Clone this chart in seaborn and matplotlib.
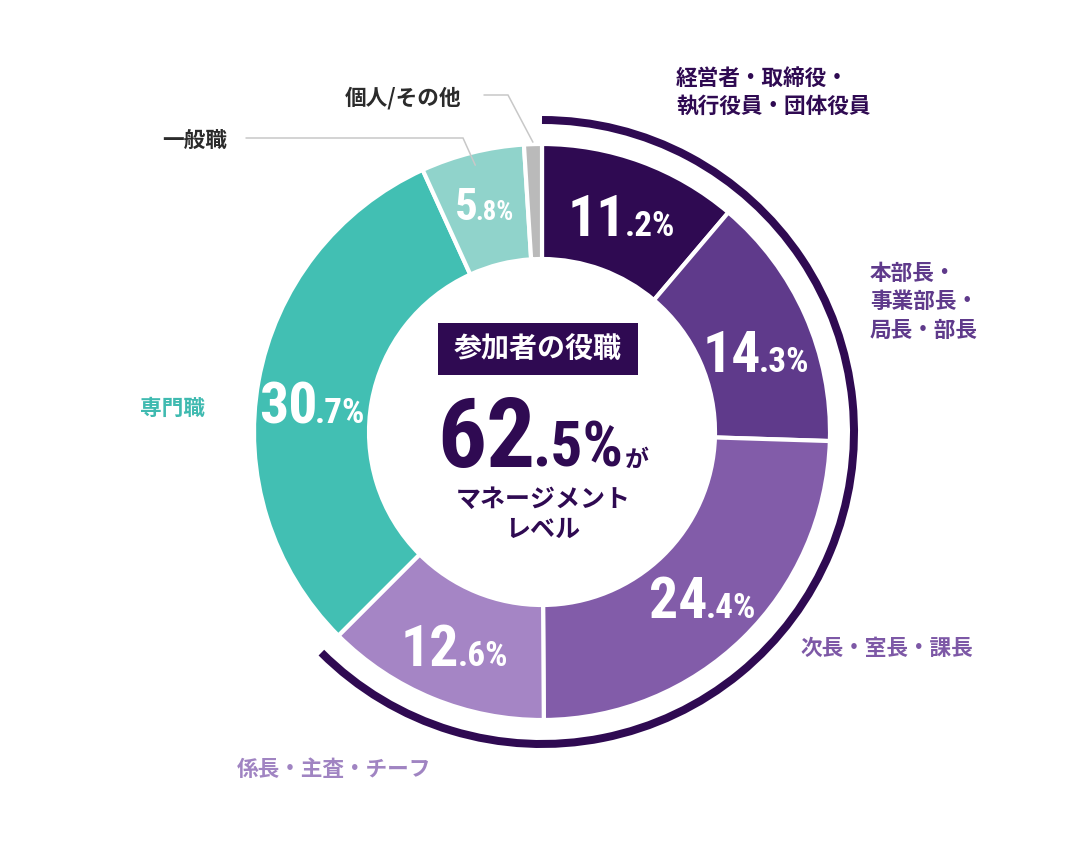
import numpy as np
import matplotlib
matplotlib.use("Agg")
import matplotlib.pyplot as plt
from matplotlib import font_manager
import seaborn as sns
from matplotlib.patches import Arc, Rectangle

# data
categories = ["経営者・取締役・\n執行役員・団体役員", "本部長・\n事業部長・\n局長・部長",
              "次長・室長・課長", "係長・主査・チーフ", "専門職", "一般職", "個人/その他"]
shares = [11.2, 14.3, 24.4, 12.6, 30.7, 5.8, 1.0]
is_management = [True, True, True, True, False, False, False]
wedge_colors = ["#2f0a52", "#5f3a8b", "#825ca9", "#a585c5", "#42bfb3", "#90d3cb", "#bababa"]
label_colors = ["#2f0a52", "#5f3a8b", "#7d58a6", "#a084c2", "#3fbab0", "#2b2b2b", "#2b2b2b"]
center_title = "参加者の役職"
center_caption = ["マネージメント", "レベル"]

sns.set_theme(style="white")
JP = ["Noto Sans CJK JP", "DejaVu Sans"]
installed = {f.name for f in font_manager.fontManager.ttflist}
narrow = [f for f in ["Roboto Condensed", "Liberation Sans Narrow"] if f in installed]
NUM = narrow + ["Roboto", "DejaVu Sans"]
# squeeze factor if no condensed face is around
SQ = 1.0 if narrow else 0.9
plt.rcParams["font.family"] = JP

W, H = 1084, 864
CX, CY = 542, 432
R_OUT, R_IN, R_ARC = 288, 173, 312
DARK = wedge_colors[0]

fig = plt.figure(figsize=(W / 100, H / 100), dpi=100)
ax = fig.add_axes([0, 0, 1, 1])

def py(y):
    # pixel row (from top) to data y
    return H - y

palette = sns.color_palette(wedge_colors)
wedges, _ = ax.pie(shares, colors=palette, startangle=90, counterclock=False,
                   radius=R_OUT, center=(CX, py(CY)),
                   wedgeprops=dict(width=R_OUT - R_IN, edgecolor="white", linewidth=3))
ax.set_xlim(0, W)
ax.set_ylim(0, H)
ax.set_aspect("equal")
ax.axis("off")

# outer arc around management segments
mg = [w for w, m in zip(wedges, is_management) if m]
lo = min(w.theta1 for w in mg)
hi = max(w.theta2 for w in mg)
ax.add_patch(Arc((CX, py(CY)), 2 * R_ARC, 2 * R_ARC, theta1=lo, theta2=hi,
                 color=DARK, lw=8 * 0.72, capstyle="butt"))

renderer = fig.canvas.get_renderer()

def rich(x, yc, parts, color):
    # parts: (text, cap height px, family, kern after); centred on x, cap centred on yc
    texts, widths = [], []
    for s, cap, fam, kern in parts:
        size = cap / 0.71 * (SQ if fam is NUM else 1)
        t = ax.text(0, 0, s, fontsize=size * 0.72, family=fam, weight="bold",
                    color=color, ha="left", va="baseline")
        widths.append(t.get_window_extent(renderer).width + kern)
        texts.append(t)
    cap = max(p[1] for p in parts)
    x0 = x - sum(widths) / 2
    for t, w in zip(texts, widths):
        t.set_position((x0, yc - cap / 2))
        x0 += w

# percentage labels inside wedges
r_lab = (R_OUT + R_IN) / 2
nudge = {1: (3, -13), 4: (-3, -12), 5: (-2, 4)}
for i, (w, v) in enumerate(zip(wedges, shares)):
    if v < 2:
        continue
    a = np.deg2rad((w.theta1 + w.theta2) / 2)
    big, small = f"{v:.1f}".split(".")
    bc, sc = (41, 25) if v >= 10 else (32, 19)
    dx, dy = nudge.get(i, (0, 0))
    rich(CX + r_lab * np.cos(a) + dx, py(CY) + r_lab * np.sin(a) + dy,
         [(big, bc, NUM, -2), ("." + small + "%", sc, NUM, 0)], "white")

# category labels
label_pos = [(676, 78), (870, 273), (800, 648), (237, 770), (140, 408), (162, 140), (345, 98)]
for cat, (x, y), c in zip(categories, label_pos, label_colors):
    for i, line in enumerate(cat.split("\n")):
        ax.text(x, py(y + i * 28.5), line, fontsize=15.6, weight="bold", color=c,
                ha="left", va="center", family=JP)

# leader lines
def leader(idx, pts, r):
    w = wedges[idx]
    a = np.deg2rad((w.theta1 + w.theta2) / 2)
    xs = [p[0] for p in pts] + [CX + r * np.cos(a)]
    ys = [py(p[1]) for p in pts] + [py(CY) + r * np.sin(a)]
    ax.plot(xs, ys, color="#c8c8c8", lw=1.1, solid_joinstyle="miter")

leader(5, [(246, 138), (463, 138)], 275)
leader(6, [(484, 95), (508, 95)], 290)

# centre block
ax.add_patch(Rectangle((438, py(375)), 200, 52, color=DARK, lw=0))
ax.text(538, py(350), center_title, fontsize=28 * 0.72, weight="bold", color="white",
        ha="center", va="center", family=JP)
total = sum(s for s, m in zip(shares, is_management) if m)
tb, ts = f"{total:.1f}".split(".")
rich(543, py(432), [(tb, 69, NUM, -3), ("." + ts + "%", 45, NUM, 2), ("が", 17, JP, 0)], DARK)
for i, line in enumerate(center_caption):
    ax.text(543, py(500 + i * 30), line, fontsize=25 * 0.72, weight="bold", color=DARK,
            ha="center", va="center", family=JP)

fig.savefig("out.png", dpi=100, facecolor="white")
